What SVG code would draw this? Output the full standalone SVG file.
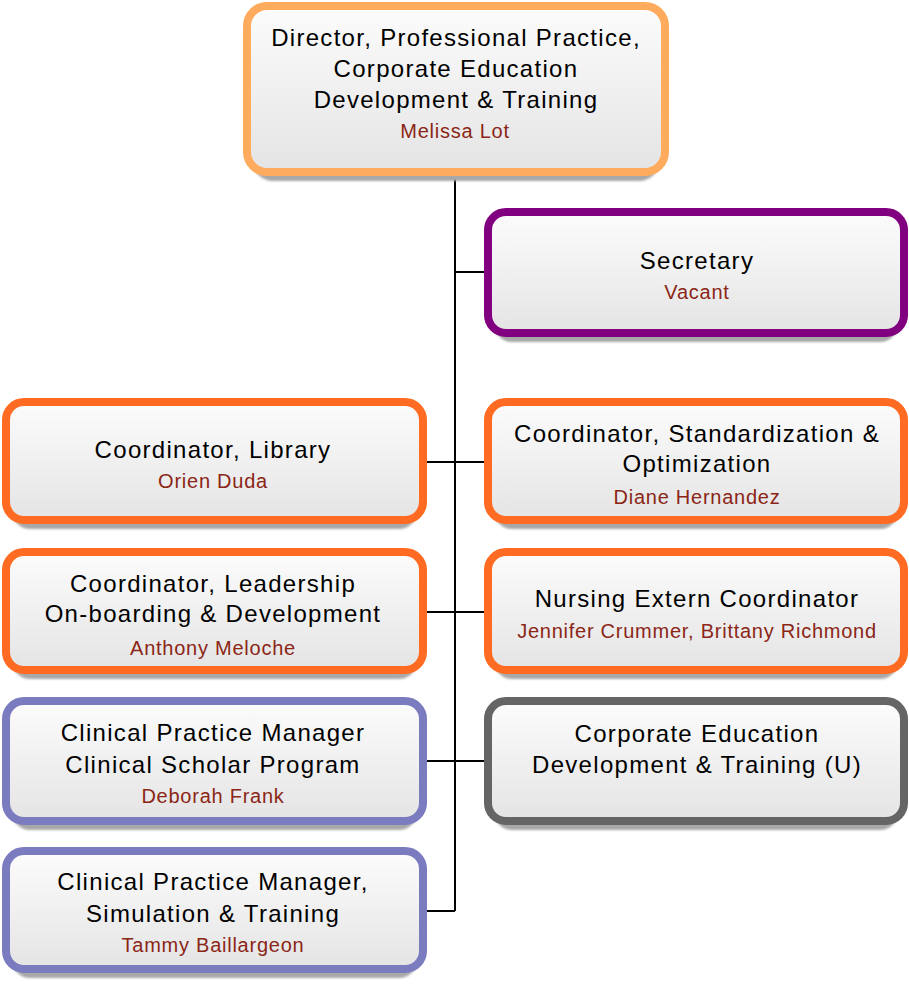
<svg xmlns="http://www.w3.org/2000/svg" width="909" height="984" viewBox="0 0 909 984">
<style>
.box{fill:url(#g);stroke-width:8}
.sh{fill:#a8a8a8;filter:url(#b)}
.t{font-family:"Liberation Sans",Arial,sans-serif;font-size:24px;letter-spacing:1.3px;fill:#000;text-anchor:middle}
.n{font-family:"Liberation Sans",Arial,sans-serif;font-size:20px;letter-spacing:0.75px;fill:#8b2616;text-anchor:middle}
.c{stroke:#000;stroke-width:2;fill:none}
</style>
<defs>
<linearGradient id="g" x1="0" y1="0" x2="0" y2="1">
<stop offset="0" stop-color="#fcfcfc"/>
<stop offset="1" stop-color="#e4e4e4"/>
</linearGradient>
<filter id="b" x="-5%" y="-10%" width="110%" height="130%"><feGaussianBlur stdDeviation="1.2"/></filter>
</defs>
<rect width="909" height="984" fill="#fff"/>
<g id="connectors">
<path class="c" d="M455 176V911M455 272H488M427 462H488M427 612H488M427 761H488M427 911H455"/>
</g>
<g id="director">
<rect class="sh" x="253" y="15" width="406" height="166" rx="20"/>
<rect class="box" x="247" y="6" width="418" height="166" rx="20" stroke="#ffab5e" stroke-width="7"/>
<text class="t" x="456" y="46">Director, Professional Practice,</text>
<text class="t" x="456" y="77">Corporate Education</text>
<text class="t" x="456" y="108">Development &amp; Training</text>
<text class="n" x="455" y="138">Melissa Lot</text>
</g>
<g id="secretary">
<rect class="sh" x="494" y="221" width="404" height="121" rx="18"/>
<rect class="box" x="488" y="212" width="416" height="121" rx="18" stroke="#800080"/>
<text class="t" x="697" y="269">Secretary</text>
<text class="n" x="697" y="299">Vacant</text>
</g>
<g id="library">
<rect class="sh" x="12" y="411" width="405" height="118" rx="18"/>
<rect class="box" x="6" y="402" width="417" height="118" rx="18" stroke="#ff6b22"/>
<text class="t" x="213" y="458">Coordinator, Library</text>
<text class="n" x="213" y="488">Orien Duda</text>
</g>
<g id="standardization">
<rect class="sh" x="494" y="411" width="404" height="118" rx="18"/>
<rect class="box" x="488" y="402" width="416" height="118" rx="18" stroke="#ff6b22"/>
<text class="t" x="697" y="442">Coordinator, Standardization &amp;</text>
<text class="t" x="697" y="472">Optimization</text>
<text class="n" x="697" y="504">Diane Hernandez</text>
</g>
<g id="leadership">
<rect class="sh" x="12" y="561" width="405" height="118" rx="18"/>
<rect class="box" x="6" y="552" width="417" height="118" rx="18" stroke="#ff6b22"/>
<text class="t" x="213" y="592">Coordinator, Leadership</text>
<text class="t" x="213" y="622">On-boarding &amp; Development</text>
<text class="n" x="213" y="655">Anthony Meloche</text>
</g>
<g id="nursing">
<rect class="sh" x="494" y="561" width="404" height="118" rx="18"/>
<rect class="box" x="488" y="552" width="416" height="118" rx="18" stroke="#ff6b22"/>
<text class="t" x="697" y="607">Nursing Extern Coordinator</text>
<text class="n" x="697" y="638">Jennifer Crummer, Brittany Richmond</text>
</g>
<g id="scholar">
<rect class="sh" x="12" y="710" width="405" height="120" rx="18"/>
<rect class="box" x="6" y="701" width="417" height="120" rx="18" stroke="#7b7bbf"/>
<text class="t" x="213" y="741">Clinical Practice Manager</text>
<text class="t" x="213" y="773">Clinical Scholar Program</text>
<text class="n" x="213" y="803">Deborah Frank</text>
</g>
<g id="corporate">
<rect class="sh" x="494" y="710" width="404" height="120" rx="18"/>
<rect class="box" x="488" y="701" width="416" height="120" rx="18" stroke="#656565"/>
<text class="t" x="697" y="742">Corporate Education</text>
<text class="t" x="697" y="773">Development &amp; Training (U)</text>
</g>
<g id="simulation">
<rect class="sh" x="12" y="860" width="405" height="118" rx="18"/>
<rect class="box" x="6" y="851" width="417" height="118" rx="18" stroke="#7b7bbf"/>
<text class="t" x="213" y="890">Clinical Practice Manager,</text>
<text class="t" x="213" y="922">Simulation &amp; Training</text>
<text class="n" x="213" y="952">Tammy Baillargeon</text>
</g>
</svg>
